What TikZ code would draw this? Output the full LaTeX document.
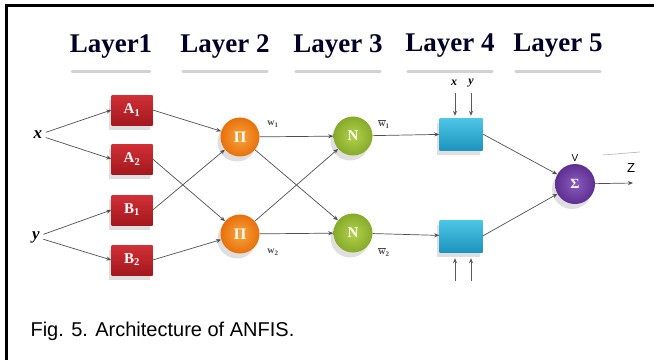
\documentclass[tikz,border=0pt]{standalone}
\usepackage{fontspec}
\setmainfont{Liberation Serif}
\newfontfamily\capfont{Liberation Sans}
\usetikzlibrary{arrows.meta,shadows}
\definecolor{redT}{HTML}{D03036}
\definecolor{redB}{HTML}{A3181E}
\definecolor{orgI}{HTML}{F8A53A}
\definecolor{orgO}{HTML}{E8700C}
\definecolor{grnI}{HTML}{B4D24C}
\definecolor{grnO}{HTML}{86AA2A}
\definecolor{cyT}{HTML}{4CC6E6}
\definecolor{cyB}{HTML}{1C94BE}
\definecolor{purI}{HTML}{8A5CC0}
\definecolor{purO}{HTML}{5E2F90}
\definecolor{lineC}{HTML}{505050}
\begin{document}
\begin{tikzpicture}[x=1pt,y=-1pt,
  conn/.style={draw=lineC, line width=0.7pt, -{Stealth[length=5pt,width=4pt]}},
  shade/.style={drop shadow={shadow xshift=-3pt, shadow yshift=-5pt, opacity=0.25, fill=gray}},
  membox/.style={rectangle, minimum width=41pt, minimum height=30pt, inner sep=0pt,
    top color=redT, bottom color=redB, text=white, font=\bfseries\fontsize{15}{15}\selectfont, shade},
  prodnode/.style={circle, minimum size=39pt, inner sep=0pt, inner color=orgI, outer color=orgO,
    text=white, font=\bfseries\fontsize{16}{16}\selectfont, shade},
  normnode/.style={circle, minimum size=39pt, inner sep=0pt, inner color=grnI, outer color=grnO,
    text=white, font=\bfseries\fontsize{15}{15}\selectfont, shade},
  rulebox/.style={rectangle, minimum width=43pt, minimum height=32pt, inner sep=0pt,
    top color=cyT, bottom color=cyB, shade},
  sumnode/.style={circle, minimum size=40pt, inner sep=0pt, inner color=purI, outer color=purO,
    text=white, font=\bfseries\fontsize{14}{14}\selectfont, shade},
  title/.style={font=\bfseries\fontsize{27}{27}\selectfont, text=black!85!blue},
  inlab/.style={font=\bfseries\itshape\fontsize{17}{17}\selectfont},
  smlab/.style={font=\bfseries\itshape\fontsize{12}{12}\selectfont},
  wlab/.style={font=\bfseries\fontsize{10}{10}\selectfont, text=black!70},
  uline/.style={line width=3pt, draw=gray!35, line cap=round}
]
\useasboundingbox (0,0) rectangle (654,360);
% frame
\draw[line width=2.5pt] (6.5,360) -- (6.5,5.5) -- (654,5.5);

% titles
\node[title] (t1) at (111,46) {Layer1};
\node[title] (t2) at (225,46) {Layer 2};
\node[title] (t3) at (338,46) {Layer 3};
\node[title] (t4) at (450,46) {Layer 4};
\node[title] (t5) at (558,46) {Layer 5};
\foreach \c in {t1,t2,t3,t4,t5}{
  \draw[uline] ([xshift=6pt,yshift=-10pt]\c.south west) -- ([xshift=-6pt,yshift=-10pt]\c.south east);
}

% inputs
\node[inlab] (x) at (38,135) {x};
\node[inlab] (y) at (36,237) {y};

% layer 1
\node[membox] (A1) at (132,110) {A\textsubscript{1}};
\node[membox] (A2) at (132,159) {A\textsubscript{2}};
\node[membox] (B1) at (132,210) {B\textsubscript{1}};
\node[membox] (B2) at (132,260) {B\textsubscript{2}};

% layer 2
\node[prodnode] (P1) at (240,137) {Π};
\node[prodnode] (P2) at (240,234) {Π};

% layer 3
\node[normnode] (N1) at (353,136) {N};
\node[normnode] (N2) at (353,233) {N};

% layer 4
\node[rulebox] (R1) at (461,134) {};
\node[rulebox] (R2) at (461,236) {};

% layer 5
\node[sumnode] (S) at (575,184) {Σ};

% weight labels
\node[wlab] (w1) at (273,124) {w\textsubscript{1}};
\node[wlab] (w2) at (273,252) {w\textsubscript{2}};
\node[wlab] (wb1) at (384,124) {$\overline{\hbox{w}}$\textsubscript{1}};
\node[wlab] (wb2) at (384,252) {$\overline{\hbox{w}}$\textsubscript{2}};

% connectors
\draw[conn] (x) -- (A1.west);
\draw[conn] (x) -- (A2.west);
\draw[conn] (y) -- (B1.west);
\draw[conn] (y) -- (B2.west);
\draw[conn] (A1.east) -- (P1);
\draw[conn] (A2.east) -- (P2);
\draw[conn] (B1.east) -- (P1);
\draw[conn] (B2.east) -- (P2);
\draw[conn] (P1) -- (N1);
\draw[conn] (P1) -- (N2);
\draw[conn] (P2) -- (N1);
\draw[conn] (P2) -- (N2);
\draw[conn] (N1) -- (R1);
\draw[conn] (N2) -- (R2);
\draw[conn] (R1.east) -- (S);
\draw[conn] (R2.east) -- (S);

% layer 4 extra inputs
\node[smlab] (x4) at (454,83) {x};
\node[smlab] (y4) at (471,83) {y};
\coordinate (xa) at (455,93);
\coordinate (ya) at (471,93);
\coordinate (xb) at (455,281);
\coordinate (yb) at (471,281);
\draw[conn, draw=gray!70!black, line width=0.6pt] (xa) -- ([yshift=2pt]R1.north -| xa);
\draw[conn, draw=gray!70!black, line width=0.6pt] (ya) -- ([yshift=2pt]R1.north -| ya);
\draw[conn, draw=gray!70!black, line width=0.6pt] (xb) -- ([yshift=-6pt]R2.south -| xb);
\draw[conn, draw=gray!70!black, line width=0.6pt] (yb) -- ([yshift=-6pt]R2.south -| yb);

% output
\coordinate (out) at (633,183);
\draw[conn] (S) -- (out);
\node[font=\capfont\fontsize{13}{13}\selectfont] (z) at (631,168) {Z};
\node[font=\capfont\fontsize{10}{10}\selectfont] (v) at (575,158) {V};
\coordinate (fl1) at (603,155);
\coordinate (fl2) at (640,152);
\draw[gray!60, line width=0.6pt] (fl1) -- (fl2);

% caption
\node[font=\capfont\fontsize{20}{20}\selectfont, anchor=west] (cap) at (27,331) {Fig. 5. Architecture of ANFIS.};
\end{tikzpicture}
\end{document}
